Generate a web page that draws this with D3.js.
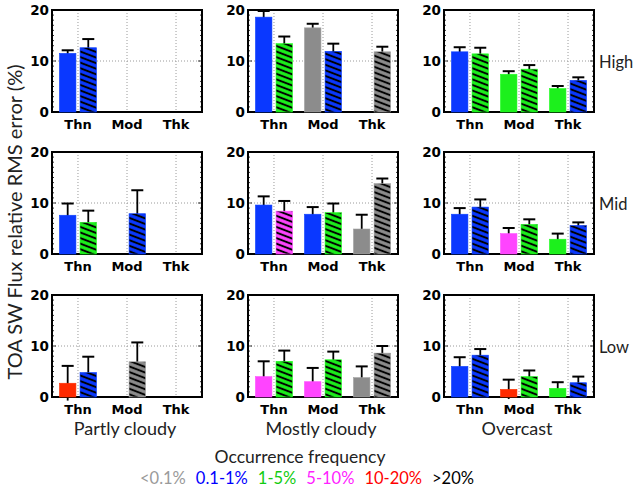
<!DOCTYPE html>
<html><head><meta charset="utf-8">
<script src="https://cdn.jsdelivr.net/npm/d3@7"></script>
<style>body{margin:0;background:#fff}svg{display:block}</style>
</head><body><svg id="c" width="635" height="491"></svg>
<script>
const categories = ["Thn", "Mod", "Thk"];
const columns = ["Partly cloudy", "Mostly cloudy", "Overcast"];
const rows = ["High", "Mid", "Low"];
const yTicks = [0, 10, 20];
const legendLabels = ["<0.1%", "0.1-1%", "1-5%", "5-10%", "10-20%", ">20%"];
// [row][column][category]
const solidValues = [
  [[11.5, 0, 0], [18.6, 16.5, 0], [11.8, 7.4, 4.6]],
  [[7.6, 0, 0], [9.6, 7.8, 4.9], [7.8, 4.0, 2.9]],
  [[2.7, 0, 0], [4.0, 3.0, 3.8], [6.0, 1.5, 1.7]]
];
const solidErrors = [
  [[0.6, 0, 0], [1.2, 0.8, 0], [0.9, 0.6, 0.5]],
  [[2.3, 0, 0], [1.7, 1.4, 2.8], [1.2, 1.1, 1.1]],
  [[3.4, 0, 0], [3.0, 2.7, 2.2], [1.8, 1.9, 1.2]]
];
const solidFreq = [
  [[1, 0, 0], [1, 0, 0], [1, 2, 2]],
  [[1, 0, 0], [1, 1, 0], [1, 3, 2]],
  [[4, 2, 0], [3, 3, 0], [1, 4, 2]]
];
const hatchedValues = [
  [[12.6, 0, 0], [13.4, 11.9, 11.8], [11.4, 8.4, 6.2]],
  [[6.2, 7.9, 0], [8.4, 8.1, 13.8], [9.2, 5.8, 5.6]],
  [[4.8, 6.9, 0], [7.0, 7.3, 8.6], [8.2, 4.0, 2.8]]
];
const hatchedErrors = [
  [[1.7, 0, 0], [1.4, 1.5, 1.0], [1.2, 0.8, 0.6]],
  [[2.3, 4.6, 0], [2.0, 1.8, 1.0], [1.5, 1.0, 0.6]],
  [[3.1, 3.8, 0], [2.1, 1.6, 1.4], [1.2, 1.2, 1.2]]
];
const hatchedFreq = [
  [[1, 0, 0], [2, 1, 0], [2, 2, 1]],
  [[2, 1, 0], [3, 2, 0], [1, 2, 1]],
  [[1, 0, 0], [2, 2, 0], [1, 2, 1]]
];

const barColors = ["#8c8c8c", "#0a38ff", "#1cf01c", "#ff44ff", "#ff2a00", "#000000"];
const legendColors = ["#9a9a9a", "#0000ff", "#11cc11", "#ff22ff", "#ff0000", "#000000"];

const svg = d3.select("#c");
const W = 150, H = 102;
const colX = [52, 248, 444];
const rowY = [10, 152, 295];

// hatch patterns
const defs = svg.append("defs");
barColors.forEach((c, i) => {
  const p = defs.append("pattern").attr("id", "hatch" + i)
    .attr("patternUnits", "userSpaceOnUse").attr("width", 8).attr("height", 5.2)
    .attr("patternTransform", "rotate(21)");
  p.append("rect").attr("width", 8).attr("height", 5.2).attr("fill", c);
  p.append("rect").attr("y", 1.6).attr("width", 8).attr("height", 2).attr("fill", "#000");
});

const x = d3.scaleBand().domain(categories).range([0, W]).paddingInner(0).paddingOuter(0.03);
const xi = d3.scaleBand().domain(["solid", "hatched"]).range([0, x.bandwidth()]).paddingInner(0.2).paddingOuter(0.29);
const y = d3.scaleLinear().domain([0, 20]).range([H, 0]);

rows.forEach((rname, r) => {
  columns.forEach((cname, c) => {
    const g = svg.append("g").attr("transform", `translate(${colX[c]},${rowY[r]})`);
    // grid
    g.selectAll(".vg").data(categories).join("line")
      .attr("x1", d => x(d) + x.bandwidth() / 2).attr("x2", d => x(d) + x.bandwidth() / 2)
      .attr("y1", 0).attr("y2", H).attr("stroke", "#9a9a9a").attr("stroke-width", 1).attr("stroke-dasharray", "1,2");
    g.selectAll(".hg").data([10]).join("line")
      .attr("x1", 0).attr("x2", W).attr("y1", d => y(d)).attr("y2", d => y(d))
      .attr("stroke", "#9a9a9a").attr("stroke-width", 1).attr("stroke-dasharray", "1,2");
    // minor ticks
    const minor = d3.range(1, 20);
    g.selectAll(".ml").data(minor).join("line").attr("x1", 0).attr("x2", d => d % 10 ? 2 : 4)
      .attr("y1", d => y(d)).attr("y2", d => y(d)).attr("stroke", "#000").attr("stroke-width", 0.8);
    g.selectAll(".mr").data(minor).join("line").attr("x1", W).attr("x2", d => W - (d % 10 ? 2 : 4))
      .attr("y1", d => y(d)).attr("y2", d => y(d)).attr("stroke", "#000").attr("stroke-width", 0.8);
    // frame
    g.append("rect").attr("width", W).attr("height", H).attr("fill", "none").attr("stroke", "#000").attr("stroke-width", 2);

    const data = [];
    categories.forEach((cat, k) => {
      data.push({cat, kind: "solid", v: solidValues[r][c][k], e: solidErrors[r][c][k], f: solidFreq[r][c][k]});
      data.push({cat, kind: "hatched", v: hatchedValues[r][c][k], e: hatchedErrors[r][c][k], f: hatchedFreq[r][c][k]});
    });
    const bx = d => x(d.cat) + xi(d.kind);
    // error bars (behind bars)
    const eb = data.filter(d => d.v > 0 && d.e > 0);
    g.selectAll(".ev").data(eb).join("line")
      .attr("x1", d => bx(d) + xi.bandwidth() / 2).attr("x2", d => bx(d) + xi.bandwidth() / 2)
      .attr("y1", d => y(d.v - d.e)).attr("y2", d => y(d.v + d.e))
      .attr("stroke", "#000").attr("stroke-width", 1.8);
    g.selectAll(".ec").data(eb).join("line")
      .attr("x1", d => bx(d) + xi.bandwidth() / 2 - 6).attr("x2", d => bx(d) + xi.bandwidth() / 2 + 6)
      .attr("y1", d => y(d.v + d.e)).attr("y2", d => y(d.v + d.e))
      .attr("stroke", "#000").attr("stroke-width", 2);
    // bars
    g.selectAll(".bar").data(data).join("rect")
      .attr("x", bx).attr("width", xi.bandwidth())
      .attr("y", d => y(d.v)).attr("height", d => y(0) - y(d.v))
      .attr("fill", d => d.kind === "solid" ? barColors[d.f] : `url(#hatch${d.f})`)
      .attr("stroke", d => d3.color(barColors[d.f]).brighter(0.4)).attr("stroke-width", d => d.v > 0 ? 0.6 : 1.2)
      .attr("stroke-opacity", d => d.v > 0 ? 1 : 0.6);
    // y tick labels
    g.selectAll(".yt").data(yTicks).join("text")
      .attr("x", -3).attr("y", d => y(d)).attr("dy", "0.36em").attr("text-anchor", "end")
      .attr("font-family", "DejaVu Sans").attr("font-weight", "bold").attr("font-size", 13.5)
      .text(d => d);
    // x labels
    g.selectAll(".xt").data(categories).join("text")
      .attr("x", d => x(d) + x.bandwidth() / 2).attr("y", H + 17).attr("text-anchor", "middle")
      .attr("font-family", "DejaVu Sans").attr("font-weight", "bold").attr("font-size", 13)
      .text(d => d);
    if (r === rows.length - 1) {
      g.append("text").attr("x", W / 2 - 2).attr("y", H + 38).attr("text-anchor", "middle")
        .attr("font-family", "Lato").attr("font-size", 18).attr("fill", "#222").text(cname);
    }
    if (c === columns.length - 1) {
      g.append("text").attr("x", W + 5).attr("y", 58).attr("text-anchor", "start")
        .attr("font-family", "Lato").attr("font-size", 16.5).attr("fill", "#222").text(rname);
    }
  });
});

// y-axis title
svg.append("text").attr("transform", "translate(22,222) rotate(-90)").attr("text-anchor", "middle")
  .attr("font-family", "Lato").attr("font-size", 20).attr("fill", "#222")
  .text("TOA SW Flux relative RMS error (%)");

// legend
svg.append("text").attr("x", 300).attr("y", 463).attr("text-anchor", "middle")
  .attr("font-family", "Lato").attr("font-size", 17.5).attr("fill", "#222").text("Occurrence frequency");
const lg = svg.append("g");
const items = lg.selectAll("text").data(legendLabels).join("text")
  .attr("y", 484).attr("font-family", "Lato").attr("font-size", 16.5)
  .attr("fill", (d, i) => legendColors[i]).text(d => d);
let cx = 0;
const widths = [];
items.each(function () { widths.push(this.getComputedTextLength()); });
const gap = 10;
const total = d3.sum(widths) + gap * (widths.length - 1);
cx = 307 - total / 2;
items.attr("x", (d, i) => { const v = cx; cx += widths[i] + gap; return v; });
</script></body></html>
